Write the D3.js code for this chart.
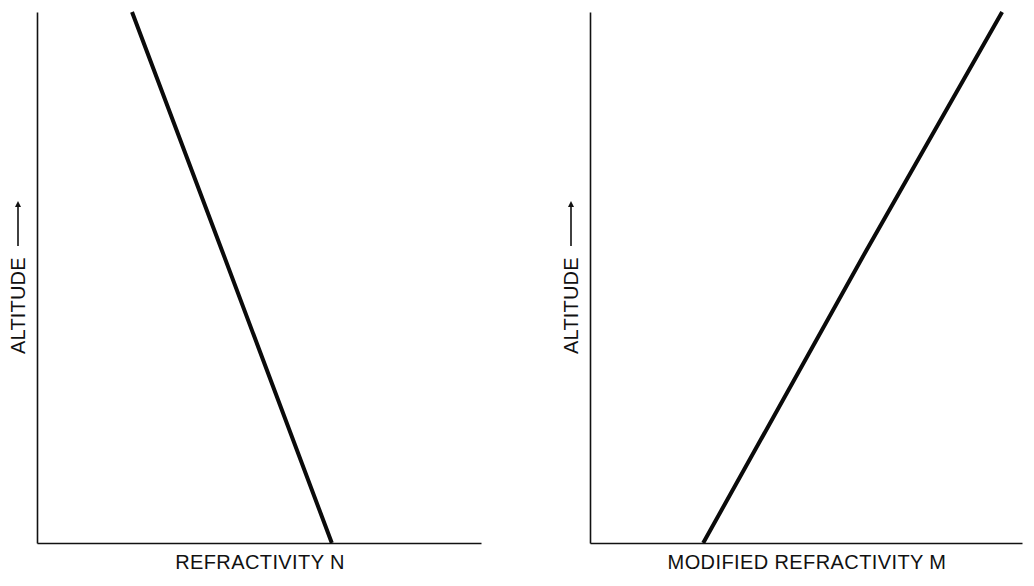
<!DOCTYPE html>
<html>
<head>
<meta charset="utf-8">
<script src="https://cdn.jsdelivr.net/npm/d3@7"></script>
<style>
    body { margin: 0; background: #fff; }
    svg { display: block; }
    text { font-family: "Liberation Sans", Arial, sans-serif; fill: #111; }
</style>
</head>
<body>
<div id="chart"></div>
<script>
// Data (schematic, arbitrary units 0-100)
const altitude = [0, 55, 100];
const refractivityN = [66.4, 41.7, 21.4];
const modifiedM = [26.2, 63.9, 95.4];

const xLabels = ['REFRACTIVITY N', 'MODIFIED REFRACTIVITY M'];
const yLabel = 'ALTITUDE';

// Layout
const WIDTH = 1034;
const HEIGHT = 586;
const panels = [
    { left: 37, right: 481, top: 12, bottom: 543, labelX: 18, values: refractivityN, title: xLabels[0] },
    { left: 590, right: 1022, top: 12, bottom: 543, labelX: 571, values: modifiedM, title: xLabels[1] }
];

const svg = d3.select('#chart')
    .append('svg')
    .attr('width', WIDTH)
    .attr('height', HEIGHT);

svg.append('defs').append('marker')
    .attr('id', 'arrow')
    .attr('viewBox', '0 0 10 10')
    .attr('refX', 5).attr('refY', 5)
    .attr('markerWidth', 6).attr('markerHeight', 9)
    .attr('markerUnits', 'userSpaceOnUse')
    .attr('orient', 'auto')
    .append('path')
    .attr('d', 'M0,0 L10,5 L0,10 Z')
    .attr('fill', '#111');

/**
 * Draws one panel: axes, curve and labels
 */
function drawPanel(p) {
    const x = d3.scaleLinear().domain([0, 100]).range([p.left, p.right]);
    const y = d3.scaleLinear().domain([0, 100]).range([p.bottom, p.top]);

    const g = svg.append('g');

    g.append('g')
        .attr('transform', `translate(0,${p.bottom})`)
        .call(d3.axisBottom(x).ticks(0).tickSizeOuter(0))
        .call(a => a.select('.domain').attr('stroke', '#111').attr('stroke-width', 1.6));

    g.append('g')
        .attr('transform', `translate(${p.left},0)`)
        .call(d3.axisLeft(y).ticks(0).tickSizeOuter(0))
        .call(a => a.select('.domain').attr('stroke', '#111').attr('stroke-width', 1.6));

    const line = d3.line()
        .x((d, i) => x(p.values[i]))
        .y(d => y(d));

    g.append('path')
        .datum(altitude)
        .attr('d', line)
        .attr('fill', 'none')
        .attr('stroke', '#0a0a0a')
        .attr('stroke-width', 4)
        .attr('stroke-linecap', 'butt');

    // x label
    g.append('text')
        .attr('x', (p.left + p.right) / 2 + 1)
        .attr('y', 569)
        .attr('text-anchor', 'middle')
        .style('font-size', '20px')
        .style('letter-spacing', '0.4px')
        .text(p.title);

    // y label, rotated, with arrow
    const labelBottom = 354;
    g.append('text')
        .attr('transform', `translate(${p.labelX + 7},${labelBottom}) rotate(-90)`)
        .attr('text-anchor', 'start')
        .style('font-size', '20px')
        .style('letter-spacing', '0.2px')
        .text(yLabel);

    g.append('line')
        .attr('x1', p.labelX).attr('x2', p.labelX)
        .attr('y1', 246).attr('y2', 204)
        .attr('stroke', '#111')
        .attr('stroke-width', 1.6)
        .attr('marker-end', 'url(#arrow)');
}

panels.forEach(drawPanel);
</script>
</body>
</html>
